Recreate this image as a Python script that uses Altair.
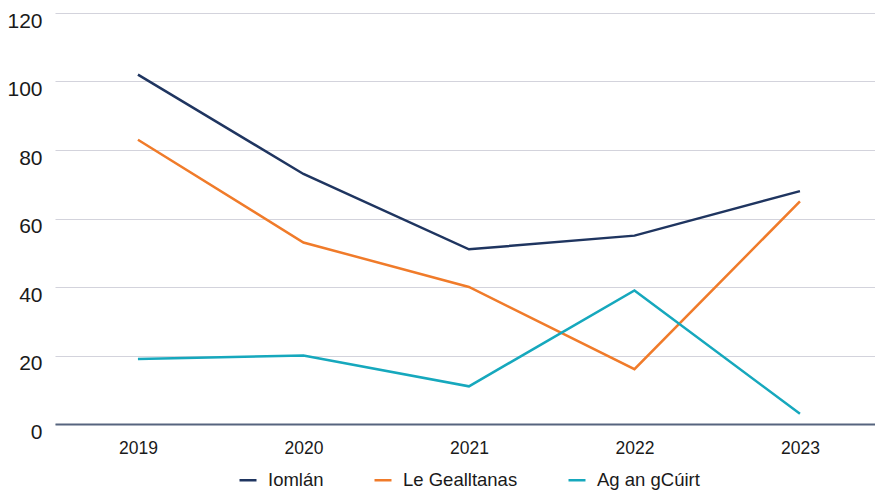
import altair as alt
import pandas as pd

years = ["2019", "2020", "2021", "2022", "2023"]
series_names = ["Iomlán", "Le Gealltanas", "Ag an gCúirt"]
iomlan = [102, 73, 51, 55, 68]
gealltanas = [83, 53, 40, 16, 65]
cuirt = [19, 20, 11, 39, 3]
colors = ["#1f3560", "#f07b2a", "#16a8bd"]

rows = []
for name, vals in zip(series_names, [iomlan, gealltanas, cuirt]):
    for y, v in zip(years, vals):
        rows.append({"Year": y, "Series": name, "Value": v})
df = pd.DataFrame(rows)

font = "Liberation Sans"

chart = alt.Chart(df).mark_line(strokeWidth=2.5).encode(
    x=alt.X("Year:N", sort=years, title=None,
            scale=alt.Scale(type="point", padding=0.4773, align=0.525),
            axis=alt.Axis(labelAngle=0, ticks=False, grid=False, domain=True,
                          domainColor="#56647e", domainWidth=2,
                          labelFont=font, labelFontSize=17.5, labelColor="#1a1a1a",
                          labelPadding=15)),
    y=alt.Y("Value:Q", title=None,
            scale=alt.Scale(domain=[0, 120], nice=False),
            axis=alt.Axis(values=[0, 20, 40, 60, 80, 100, 120], ticks=False, domain=False,
                          gridColor="#d3d3dc", gridWidth=1.2,
                          labelFont=font, labelFontSize=21, labelColor="#1a1a1a",
                          labelBaseline="top", labelOffset=-3, labelPadding=13)),
    color=alt.Color("Series:N", sort=series_names,
                    scale=alt.Scale(domain=series_names, range=colors),
                    legend=alt.Legend(orient="none", legendX=183, legendY=457,
                                      direction="horizontal", title=None,
                                      symbolType="stroke", symbolSize=289,
                                      symbolStrokeWidth=2.5, labelFont=font,
                                      labelFontSize=18.5, labelColor="#1a1a1a",
                                      labelOffset=10, columnPadding=45)),
    order=alt.Order("Year:N"),
).properties(
    width=820, height=411,
    autosize=alt.AutoSizeParams(type="none"),
    padding={"left": 47, "top": 5, "right": 0, "bottom": 66},
).configure_view(stroke=None)

chart.save("out.html", embed_options={"renderer": "svg", "actions": False})
